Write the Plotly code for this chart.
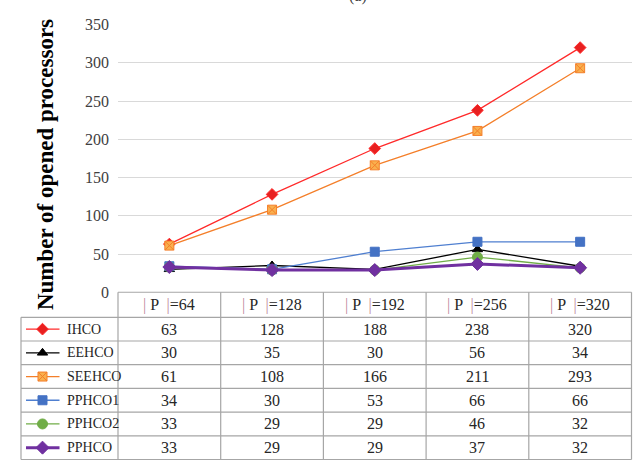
import plotly.graph_objects as go

W, H = 638, 466

# Data
categories = ["|P|=64", "|P|=128", "|P|=192", "|P|=256", "|P|=320"]
sizes = ["64", "128", "192", "256", "320"]
series_names = ["IHCO", "EEHCO", "SEEHCO", "PPHCO1", "PPHCO2", "PPHCO"]
ihco = [63, 128, 188, 238, 320]
eehco = [30, 35, 30, 56, 34]
seehco = [61, 108, 166, 211, 293]
pphco1 = [34, 30, 53, 66, 66]
pphco2 = [33, 29, 29, 46, 32]
pphco = [33, 29, 29, 37, 32]
series_values = [ihco, eehco, seehco, pphco1, pphco2, pphco]
y_ticks = [0, 50, 100, 150, 200, 250, 300, 350]

# Styles per series
styles = [
    dict(color="#FF2A2A", symbol="diamond", size=9, width=1.3, mline="#FF2A2A", mfill="#E82020"),
    dict(color="#000000", symbol="triangle-up", size=9, width=1.3, mline="#000000", mfill="#000000"),
    dict(color="#F47F2A", symbol="square-x", size=9, width=1.3, mline="#F47F2A", mfill="#F9B04E"),
    dict(color="#4F7FD0", symbol="square", size=9, width=1.3, mline="#4472C4", mfill="#4472C4"),
    dict(color="#70AD47", symbol="circle", size=10, width=1.3, mline="#70AD47", mfill="#70AD47"),
    dict(color="#7030A0", symbol="diamond", size=10, width=3, mline="#7030A0", mfill="#7030A0"),
]

# Layout geometry in pixels
plot_left, plot_right = 118, 631.5
plot_top, plot_bottom = 17.3, 295.0
table_left = 21
header_top = plot_bottom
row_top = 321.0
row_h = 24.6
n_rows = len(series_names)


def px(x):
    return x / W


def py(y):
    return 1 - y / H


fig = go.Figure()

for name, vals, st in zip(series_names, series_values, styles):
    fig.add_trace(go.Scatter(
        x=categories, y=vals, name=name, mode="lines+markers",
        line=dict(color=st["color"], width=st["width"]),
        marker=dict(symbol=st["symbol"], size=st["size"], color=st["mfill"],
                    line=dict(color=st["mline"], width=1)),
        xaxis="x", yaxis="y", showlegend=False,
    ))

# Legend keys inside the row header cells (pixel-space overlay axes)
for i, st in enumerate(styles):
    yc = row_top + row_h * (i + 0.5)
    fig.add_trace(go.Scatter(
        x=[26, 59.5], y=[yc, yc], mode="lines",
        line=dict(color=st["color"], width=st["width"]),
        xaxis="x2", yaxis="y2", showlegend=False, hoverinfo="skip",
    ))
    fig.add_trace(go.Scatter(
        x=[42.5], y=[yc], mode="markers",
        marker=dict(symbol=st["symbol"], size=st["size"], color=st["mfill"],
                    line=dict(color=st["mline"], width=1)),
        xaxis="x2", yaxis="y2", showlegend=False, hoverinfo="skip",
    ))

shapes = []
grid_col = "#A6A6A6"
table_bottom = row_top + row_h * n_rows
# horizontal table lines
shapes.append(dict(type="line", xref="paper", yref="paper",
                   x0=px(plot_left), x1=px(plot_right), y0=py(header_top), y1=py(header_top),
                   line=dict(color=grid_col, width=1.2)))
for r in range(n_rows + 1):
    yy = row_top + row_h * r
    shapes.append(dict(type="line", xref="paper", yref="paper",
                       x0=px(table_left), x1=px(plot_right), y0=py(yy), y1=py(yy),
                       line=dict(color=grid_col, width=1.2)))
# vertical table lines
shapes.append(dict(type="line", xref="paper", yref="paper",
                   x0=px(table_left), x1=px(table_left), y0=py(row_top), y1=py(table_bottom),
                   line=dict(color=grid_col, width=1.2)))
col_w = (plot_right - plot_left) / len(categories)
for c in range(len(categories) + 1):
    xx = plot_left + col_w * c
    shapes.append(dict(type="line", xref="paper", yref="paper",
                       x0=px(xx), x1=px(xx), y0=py(header_top), y1=py(table_bottom),
                       line=dict(color=grid_col, width=1.2)))

annotations = []
serif = "Times New Roman, Liberation Serif, serif"
bar = "<span style='color:#C08A9A'>|</span>"
for c, (cat, n) in enumerate(zip(categories, sizes)):
    annotations.append(dict(
        x=cat, xref="x", y=py((header_top + row_top) / 2), yref="paper",
        text=f"{bar} P  {bar}=" + n, showarrow=False,
        font=dict(family=serif, size=16, color="#262626"),
        xanchor="center", yanchor="middle"))
for r, (name, vals) in enumerate(zip(series_names, series_values)):
    yc = py(row_top + row_h * (r + 0.5))
    annotations.append(dict(
        x=px(65), xref="paper", y=yc, yref="paper", text=name, showarrow=False,
        font=dict(family=serif, size=14, color="#262626"),
        xanchor="left", yanchor="middle"))
    for cat, v in zip(categories, vals):
        annotations.append(dict(
            x=cat, xref="x", y=yc, yref="paper", text=str(v), showarrow=False,
            font=dict(family=serif, size=16, color="#262626"),
            xanchor="center", yanchor="middle"))

# Y axis title
annotations.append(dict(
    x=px(45), xref="paper", y=py(163), yref="paper",
    text="<b>Number of opened processors</b>", textangle=-90, showarrow=False,
    font=dict(family=serif, size=23, color="#000000"),
    xanchor="center", yanchor="middle"))

# Chart title (sits at the top edge)
annotations.append(dict(
    x=px(358), xref="paper", y=py(-1), yref="paper", text="(a)", showarrow=False,
    font=dict(family=serif, size=16, color="#404040"),
    xanchor="center", yanchor="bottom"))

fig.update_layout(
    width=W, height=H,
    margin=dict(l=0, r=0, t=0, b=0),
    paper_bgcolor="white", plot_bgcolor="rgba(0,0,0,0)",
    xaxis=dict(domain=[px(plot_left), px(plot_right)], type="category",
               categoryorder="array", categoryarray=categories,
               range=[-0.5, len(categories) - 0.5], visible=False),
    yaxis=dict(domain=[py(plot_bottom), py(plot_top)], range=[0, 350],
               tickvals=y_ticks, ticks="", showline=False, zeroline=False,
               gridcolor="#D9D9D9", gridwidth=1.2,
               tickfont=dict(family=serif, size=16, color="#404040"),
               ticklabelstandoff=8),
    xaxis2=dict(domain=[0, 1], range=[0, W], visible=False, anchor="y2"),
    yaxis2=dict(domain=[0, 1], range=[H, 0], visible=False, anchor="x2"),
    shapes=shapes,
    annotations=annotations,
)

fig.write_html("out.html")
